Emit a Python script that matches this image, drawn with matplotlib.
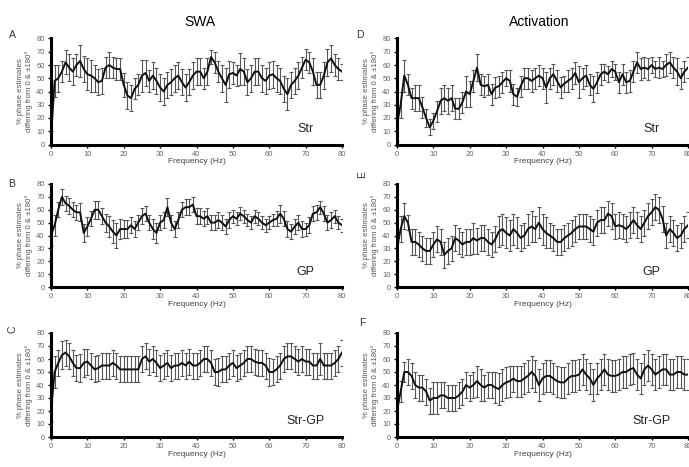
import matplotlib
matplotlib.use("Agg")
import matplotlib.pyplot as plt
import numpy as np

plt.rcParams['font.family'] = ['Liberation Sans', 'DejaVu Sans']

## Frequency axis (Hz), one estimate per Hz
freq = list(range(0, 81))

## SWA panels (left column)
str_swa = [5, 48, 50, 55, 62, 58, 55, 60, 63, 57,
           53, 52, 50, 47, 48, 58, 60, 58, 57, 57,
           45, 37, 35, 42, 45, 52, 54, 48, 52, 48,
           43, 40, 45, 47, 50, 52, 47, 43, 47, 52,
           55, 55, 50, 55, 66, 62, 55, 50, 45, 53,
           54, 52, 57, 55, 47, 50, 55, 55, 50, 48,
           52, 53, 50, 48, 42, 38, 45, 48, 52, 58,
           64, 62, 55, 45, 45, 52, 62, 65, 60, 57,
           55]
str_swa_err = [5, 12, 10, 8, 9, 10, 10, 8, 12, 10,
               12, 12, 10, 10, 10, 8, 10, 8, 8, 8,
               9, 10, 10, 8, 8, 12, 10, 8, 10, 10,
               10, 10, 10, 10, 10, 10, 10, 10, 10, 10,
               10, 10, 8, 10, 5, 8, 8, 10, 13, 10,
               8, 8, 12, 10, 10, 10, 10, 10, 10, 10,
               10, 10, 10, 10, 10, 12, 10, 10, 10, 8,
               8, 8, 10, 10, 10, 10, 10, 10, 8, 8,
               6]

gp_swa = [40, 48, 60, 70, 65, 63, 60, 58, 58, 42,
          47, 53, 60, 60, 55, 50, 47, 43, 40, 45,
          45, 45, 48, 45, 50, 55, 57, 50, 45, 42,
          50, 52, 62, 50, 45, 52, 60, 62, 62, 64,
          55, 55, 53, 55, 50, 50, 52, 50, 47, 52,
          55, 53, 57, 55, 52, 50, 55, 53, 50, 48,
          50, 52, 53, 57, 53, 45, 43, 47, 50, 45,
          45, 48, 57, 58, 62, 57, 50, 52, 55, 50,
          48]
gp_swa_err = [8, 8, 6, 6, 6, 6, 6, 6, 7, 7,
              7, 6, 7, 7, 6, 7, 8, 9, 10, 8,
              7, 7, 6, 6, 6, 6, 6, 6, 8, 8,
              6, 6, 7, 6, 6, 6, 6, 6, 6, 6,
              6, 6, 6, 6, 6, 6, 6, 6, 6, 6,
              5, 5, 5, 5, 5, 5, 5, 5, 5, 5,
              5, 5, 6, 7, 6, 6, 6, 6, 6, 6,
              5, 6, 6, 6, 5, 6, 6, 6, 5, 5,
              5]

strgp_swa = [20, 50, 57, 63, 65, 62, 57, 53, 53, 57,
             58, 55, 52, 53, 55, 55, 55, 57, 55, 52,
             52, 52, 52, 52, 52, 60, 62, 58, 60, 57,
             53, 55, 57, 53, 55, 55, 57, 55, 58, 55,
             55, 57, 60, 60, 57, 50, 50, 52, 52, 55,
             57, 53, 55, 57, 60, 60, 58, 57, 57, 55,
             50, 50, 52, 55, 60, 62, 62, 60, 58, 60,
             58, 58, 55, 55, 60, 55, 55, 55, 57, 60,
             65]
strgp_swa_err = [8, 12, 10, 11, 10, 10, 10, 10, 11, 11,
                 10, 10, 10, 10, 10, 10, 10, 10, 10, 10,
                 10, 10, 10, 10, 10, 10, 10, 10, 10, 10,
                 10, 10, 10, 10, 10, 10, 10, 10, 10, 10,
                 10, 10, 10, 10, 10, 10, 11, 10, 10, 10,
                 10, 10, 10, 10, 10, 10, 10, 10, 10, 10,
                 11, 10, 10, 10, 10, 10, 10, 10, 10, 10,
                 10, 10, 10, 10, 12, 10, 10, 10, 10, 10,
                 10]

## Activation panels (right column)
str_act = [15, 30, 52, 45, 35, 35, 35, 28, 20, 13,
           18, 25, 33, 35, 33, 35, 27, 27, 32, 40,
           38, 48, 58, 45, 44, 45, 38, 43, 44, 47,
           50, 48, 38, 36, 44, 50, 50, 48, 50, 52,
           50, 43, 50, 53, 48, 43, 46, 48, 50, 54,
           47, 50, 52, 45, 42, 47, 53, 55, 53, 57,
           55, 47, 53, 47, 48, 55, 62, 57, 58, 57,
           60, 57, 58, 57, 60, 62, 58, 55, 50, 55,
           58]
str_act_err = [12, 10, 12, 8, 8, 10, 10, 8, 7, 6,
               6, 8, 10, 10, 10, 10, 8, 8, 8, 12,
               10, 8, 10, 8, 8, 8, 8, 8, 8, 8,
               6, 8, 8, 7, 8, 8, 8, 8, 8, 8,
               8, 12, 8, 8, 8, 8, 6, 8, 8, 8,
               12, 8, 8, 8, 10, 8, 8, 6, 6, 6,
               6, 8, 8, 8, 8, 8, 8, 8, 8, 8,
               6, 6, 8, 6, 8, 8, 8, 10, 8, 8,
               8]

gp_act = [30, 45, 55, 50, 35, 35, 33, 30, 28, 28,
          33, 37, 35, 25, 28, 30, 38, 36, 33, 35,
          35, 38, 36, 38, 38, 35, 33, 37, 43, 45,
          42, 40, 45, 42, 38, 40, 45, 47, 45, 50,
          45, 42, 40, 38, 35, 35, 38, 40, 42, 45,
          47, 47, 47, 45, 43, 50, 52, 52, 57, 55,
          47, 48, 47, 45, 48, 52, 48, 45, 50, 55,
          58, 62, 60, 53, 40, 45, 42, 38, 40, 45,
          48]
gp_act_err = [8, 10, 10, 6, 10, 10, 10, 10, 10, 10,
              10, 10, 10, 10, 10, 10, 10, 10, 10, 10,
              10, 12, 10, 10, 10, 10, 10, 10, 12, 12,
              12, 12, 12, 12, 10, 10, 12, 12, 10, 12,
              12, 12, 10, 10, 10, 10, 10, 10, 10, 10,
              10, 10, 10, 10, 10, 10, 10, 10, 10, 10,
              10, 10, 10, 10, 10, 10, 10, 10, 10, 10,
              10, 10, 10, 10, 10, 10, 10, 10, 10, 10,
              10]

strgp_act = [20, 35, 50, 50, 47, 40, 38, 38, 35, 28,
             30, 30, 32, 32, 30, 30, 30, 32, 35, 40,
             38, 40, 43, 40, 38, 40, 40, 38, 37, 40,
             42, 43, 45, 43, 43, 45, 47, 50, 47, 40,
             45, 47, 47, 45, 43, 42, 42, 45, 47, 47,
             48, 52, 48, 45, 40, 45, 48, 52, 48, 47,
             47, 48, 50, 50, 52, 53, 48, 45, 52, 55,
             52, 48, 50, 52, 52, 48, 48, 50, 50, 48,
             48]
strgp_act_err = [10, 8, 8, 10, 10, 10, 10, 10, 10, 10,
                 12, 12, 10, 10, 10, 10, 10, 10, 10, 10,
                 10, 10, 12, 12, 10, 10, 10, 12, 12, 12,
                 12, 12, 10, 12, 12, 12, 12, 12, 12, 12,
                 12, 12, 12, 12, 12, 12, 12, 12, 12, 12,
                 12, 12, 12, 12, 12, 12, 12, 12, 12, 12,
                 12, 12, 12, 12, 12, 12, 12, 12, 12, 12,
                 12, 12, 12, 12, 12, 12, 12, 12, 12, 12,
                 12]

ylabel_txt = "% phase estimates\ndiffering from 0 & \u00b1180\u00b0"

## Draw one panel
def phasePanel(ax, y, yerr, region):
    ax.errorbar(freq, y, yerr=yerr, color="#111111", lw=1.4,
                ecolor="#555555", elinewidth=0.8, capsize=1.6, capthick=0.8)
    ax.set_xlim(0, 80)
    ax.set_ylim(0, 80)
    ax.set_xticks(range(0, 81, 10))
    ax.set_yticks(range(0, 81, 10))
    for s in ["top", "right"]:
        ax.spines[s].set_visible(False)
    for s in ["left", "bottom"]:
        ax.spines[s].set_linewidth(2.2)
    ax.tick_params(labelsize=5.5, labelcolor="#666666", length=2.5, width=1,
                   pad=2)
    ax.set_ylabel(ylabel_txt, fontsize=5.6, color="#555555", labelpad=2.5,
                  linespacing=1.25)
    ax.set_xlabel("Frequency (Hz)", fontsize=6, color="#444444", labelpad=0.5)
    ax.text(70, 12, region, fontsize=9, ha="center", va="center",
            color="#222222")
    # the 80 label on the right column runs off the figure, as in the source
    for lab in ax.get_xticklabels():
        lab.set_clip_on(False)

fig = plt.figure(figsize=(6.89, 4.67), dpi=100)

W, H = 689.0, 467.0
lefts = [51, 397]
width = 291
rows = [(38.5, 144.5), (184, 287), (333, 437)]

panels = [[(str_swa, str_swa_err, "Str"), (str_act, str_act_err, "Str")],
          [(gp_swa, gp_swa_err, "GP"), (gp_act, gp_act_err, "GP")],
          [(strgp_swa, strgp_swa_err, "Str-GP"), (strgp_act, strgp_act_err, "Str-GP")]]

for r, (top, bot) in enumerate(rows):
    for c, left in enumerate(lefts):
        ax = fig.add_axes([left / W, 1 - bot / H, width / W, (bot - top) / H])
        y, e, name = panels[r][c]
        phasePanel(ax, y, e, name)

## Column titles
fig.text(200 / W, 1 - 22 / H, "SWA", fontsize=10, ha="center", va="center")
fig.text(539 / W, 1 - 22 / H, "Activation", fontsize=10, ha="center", va="center")

## Panel letters
letters = [("A", 12, 35, 0), ("B", 12, 184, 0), ("C", 12, 329, 90),
           ("D", 360, 35, 0), ("E", 362, 175, 90), ("F", 362, 323, 0)]
for t, px, py, rot in letters:
    fig.text(px / W, 1 - py / H, t, fontsize=7.5, ha="center", va="center",
             color="#333333", rotation=rot)

fig.savefig("out.png", dpi=100)
